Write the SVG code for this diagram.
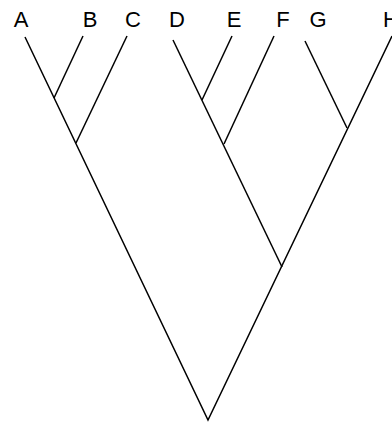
<svg xmlns="http://www.w3.org/2000/svg" width="392" height="422" viewBox="0 0 392 422">
<style>
text{font-family:"Liberation Sans",Arial,sans-serif;font-size:22px;fill:#000;text-anchor:middle}
.e{stroke:#000;stroke-width:1.5;fill:none;stroke-linecap:butt}
</style>
<rect width="392" height="422" fill="#fff"/>
<g id="connectors">
<path class="e" d="M25,37 L208,420 L392,36"/>
<path class="e" d="M83,36 L54,98"/>
<path class="e" d="M127,36 L76,143"/>
<path class="e" d="M173,40 L282,267"/>
<path class="e" d="M232,36 L202,100"/>
<path class="e" d="M274,36 L224,144"/>
<path class="e" d="M305,41 L347,128"/>
</g>
<g id="A"><text x="21" y="27">A</text></g>
<g id="B"><text x="90" y="27">B</text></g>
<g id="C"><text x="133" y="27">C</text></g>
<g id="D"><text x="177" y="27">D</text></g>
<g id="E"><text x="234" y="27">E</text></g>
<g id="F"><text x="283" y="27">F</text></g>
<g id="G"><text x="318" y="27">G</text></g>
<g id="H"><text x="391" y="27">H</text></g>
</svg>
